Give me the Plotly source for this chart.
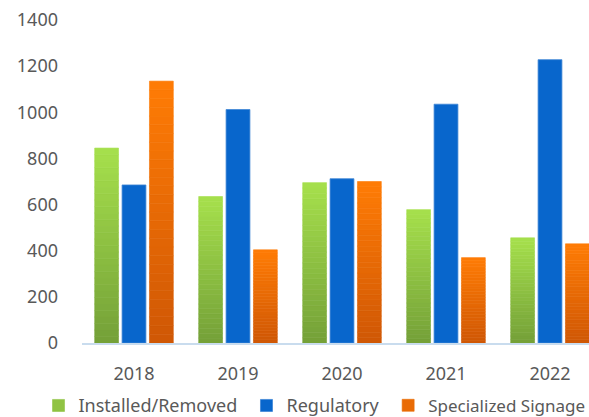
import plotly.graph_objects as go

years = ["2018", "2019", "2020", "2021", "2022"]
installed_removed = [845, 635, 695, 578, 456]
regulatory = [685, 1012, 712, 1035, 1228]
specialized_signage = [1135, 404, 700, 370, 430]
y_ticks = [0, 200, 400, 600, 800, 1000, 1200, 1400]

N_SLICES = 30


def lerp(c1, c2, t):
    return "rgb({},{},{})".format(*[round(a + (b - a) * t) for a, b in zip(c1, c2)])


def gradient_traces(name, values, bottom, top, group, legend_id, legend_color_t=0.55):
    traces = []
    legend_idx = int(N_SLICES * legend_color_t)
    for i in range(N_SLICES):
        t = (i + 0.5) / N_SLICES
        col = lerp(bottom, top, t)
        traces.append(go.Bar(
            x=years,
            y=[v / N_SLICES for v in values],
            base=[v * i / N_SLICES for v in values],
            name=name,
            legend=legend_id,
            legendgroup=name,
            showlegend=(i == legend_idx),
            offsetgroup=group,
            marker=dict(color=col, line=dict(color=col, width=0.6)),
            hoverinfo="skip",
        ))
    return traces


fig = go.Figure()
for tr in gradient_traces("Installed/Removed", installed_removed,
                          (0x74, 0xA0, 0x38), (0xA6, 0xE0, 0x4C), "g", "legend"):
    fig.add_trace(tr)
fig.add_trace(go.Bar(
    x=years, y=regulatory, name="Regulatory", offsetgroup="b", legend="legend2",
    marker=dict(color="#0866CC", line=dict(color="#3F86D6", width=0.8)),
))
for tr in gradient_traces("Specialized Signage", specialized_signage,
                          (0xCF, 0x57, 0x05), (0xFF, 0x7C, 0x05), "o", "legend3"):
    fig.add_trace(tr)

legend_common = dict(
    orientation="h", xref="container", yref="container",
    y=0.027, xanchor="left", yanchor="middle",
    itemclick=False, bgcolor="rgba(0,0,0,0)",
)

fig.update_layout(
    width=589, height=417,
    margin=dict(l=82, r=0, t=20, b=74, autoexpand=False),
    paper_bgcolor="white", plot_bgcolor="white",
    barmode="group", bargap=0.21, bargroupgap=0.13,
    font=dict(family="Noto Sans, Open Sans, sans-serif", size=18, color="#595959"),
    showlegend=True,
    legend=dict(x=0.0654, font=dict(size=18, color="#595959"), **legend_common),
    legend2=dict(x=0.4185, font=dict(size=18, color="#595959"), **legend_common),
    legend3=dict(x=0.6590, font=dict(size=17, color="#595959"), **legend_common),
)
fig.update_xaxes(
    type="category", range=[-0.5, 4.375],
    showline=True, linecolor="#C9DCEE", linewidth=1.5,
    ticks="", showgrid=False, tickfont=dict(size=18, color="#595959"),
    ticklabelstandoff=14,
)
fig.update_yaxes(
    range=[0, 1400], tickvals=y_ticks, showgrid=False, zeroline=False,
    showline=False, ticks="", tickfont=dict(size=18, color="#595959"),
    ticklabelstandoff=23,
)

fig.write_html(
    "out.html",
    config={"displayModeBar": False},
    post_script="document.body.style.margin='0';document.body.style.padding='0';",
)
